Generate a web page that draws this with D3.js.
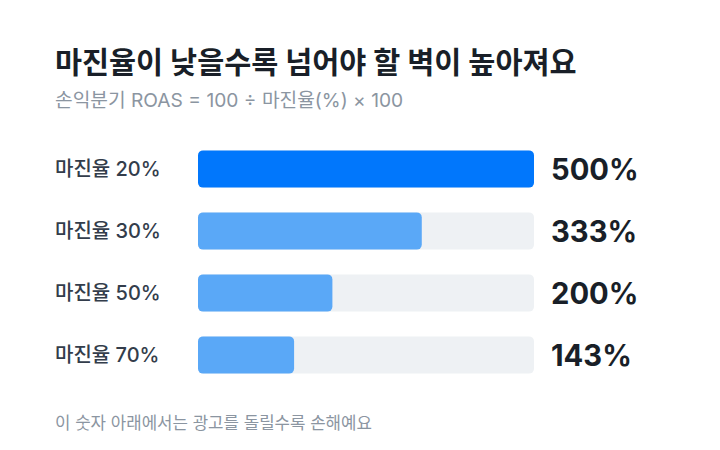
<!DOCTYPE html>
<html><head><meta charset="utf-8">
<script src="https://cdn.jsdelivr.net/npm/d3@7"></script>
<style>
html,body{margin:0;padding:0;background:#fff;}
text{font-family:Inter,"Noto Sans CJK KR","Noto Sans",sans-serif;}
</style></head>
<body>
<svg id="c" width="720" height="450"></svg>
<script>
const categories = ["마진율 20%", "마진율 30%", "마진율 50%", "마진율 70%"];
const roasValues = [500, 333, 200, 143];
const valueLabels = ["500%", "333%", "200%", "143%"];
const titleText = "마진율이 낮을수록 넘어야 할 벽이 높아져요";
const subtitleText = "손익분기 ROAS = 100 ÷ 마진율(%) × 100";
const footerText = "이 숫자 아래에서는 광고를 돌릴수록 손해예요";

const svg = d3.select("#c");
const x = d3.scaleLinear().domain([0, 500]).range([198, 534]);
const y = d3.scaleBand().domain(categories).range([138, 386]).paddingInner(0.4).paddingOuter(0.2);

svg.append("text").attr("x", 55).attr("y", 73).attr("font-size", 29.4).attr("font-weight", 700)
  .attr("fill", "#191f28").text(titleText);
svg.append("text").attr("x", 55).attr("y", 107).attr("font-size", 19.2).attr("font-weight", 400)
  .attr("fill", "#8b95a1").text(subtitleText);

const g = svg.append("g");
const rows = g.selectAll("g.row").data(categories).join("g").attr("class", "row");

rows.append("rect").attr("x", x(0)).attr("y", d => y(d)).attr("width", x(500) - x(0))
  .attr("height", y.bandwidth()).attr("rx", 5).attr("fill", "#eef1f4");
rows.append("rect").attr("x", x(0)).attr("y", d => y(d))
  .attr("width", (d, i) => x(roasValues[i]) - x(0))
  .attr("height", y.bandwidth()).attr("rx", 5)
  .attr("fill", (d, i) => i === 0 ? "#0177fc" : "#5aa8f7");
rows.append("text").attr("x", 55).attr("y", d => y(d) + y.bandwidth() / 2)
  .attr("dy", "0.36em").attr("font-size", 20).attr("font-weight", 500).attr("fill", "#333d4b")
  .text(d => d);
rows.append("text").attr("x", 551).attr("y", d => y(d) + y.bandwidth() / 2)
  .attr("dy", "0.37em").attr("font-size", 29.2).attr("font-weight", 700).attr("fill", "#191f28")
  .text((d, i) => valueLabels[i]);

svg.append("text").attr("x", 55).attr("y", 429).attr("font-size", 16.8).attr("font-weight", 400)
  .attr("fill", "#8b95a1").text(footerText);
</script>
</body></html>
